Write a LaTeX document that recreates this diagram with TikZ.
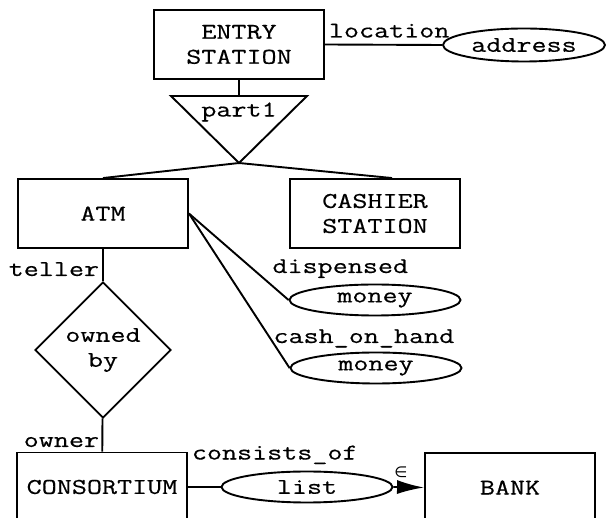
\documentclass[tikz,border=0pt]{standalone}
\usepackage{fontspec}
\setmainfont[FakeStretch=1.3,FakeBold=0.5]{Latin Modern Mono}
\newfontfamily\symbolfont{DejaVu Sans}
\usetikzlibrary{arrows.meta,shapes.geometric,positioning,calc}

\begin{document}
\begin{tikzpicture}[x=1pt,y=-1pt,line width=1.9pt,
        every node/.style={font=\fontsize{22.5}{25}\selectfont},
        entity/.style={draw,minimum width=170pt,minimum height=69pt,align=center,inner sep=0pt},
        attr/.style={draw,ellipse,minimum width=171pt,minimum height=31pt,inner sep=0pt},
        rel/.style={draw,diamond,minimum size=136pt,inner sep=0pt,align=center},
        role/.style={inner sep=0pt,anchor=base west}]
        \path[use as bounding box,clip] (0,0) rectangle (606,518);
        % entities
        \node[entity] (entry) at (239,44.5) {ENTRY\\STATION};
        \node[entity] (atm) at (103,213.5) {ATM};
        \node[entity] (cashier) at (375,213.5) {CASHIER\\STATION};
        \node[entity] (consortium) at (102,487) {CONSORTIUM};
        \node[entity] (bank) at (510,487.5) {BANK};
        % attributes
        \node[attr,minimum width=162pt,minimum height=33pt] (address) at (524,45) {address};
        \node[attr] (money1) at (375,300) {money};
        \node[attr] (money2) at (376,368) {money};
        \node[attr] (list) at (307,487) {list};
        % partition triangle
        \coordinate (tl) at (171,96);
        \coordinate (tr) at (307,96);
        \coordinate (apex) at (239,163);
        \draw (tl) -- (tr) -- (apex) -- cycle;
        \node (part1) at (239,112) {part1};
        \draw (entry.south) -- (entry.south |- tl);
        \draw (apex) -- (atm.north);
        \draw (apex) -- ($(cashier.north)+(17,0)$);
        % relationship
        \node[rel] (owned) at (103,350) {owned\\by};
        \draw (atm) -- (owned);
        \draw (owned) -- (consortium);
        % links
        \draw (entry.east) -- (address.west);
        \draw (atm.east) -- (money1.west);
        \draw (atm.east) -- (money2.west);
        \draw (consortium.east) -- (list.west);
        \draw[-{Latex[length=27pt,width=14pt]}] (list.east) -- (bank.west);
        % role names
        \node[role] at ($(entry.east)+(3,-7)$) {location};
        \node[role,anchor=base east] at ($(atm.south)+(-3,27)$) {teller};
        \node[role,anchor=base east] at ($(owned.south)+(-3,28)$) {owner};
        \node[role] at ($(money1.west)+(-17,-27)$) {dispensed};
        \node[role] at ($(money2.west)+(-17,-25)$) {cash\_on\_hand};
        \node[role] at ($(consortium.north east)+(3,8)$) {consists\_of};
        \node[role,font=\symbolfont\fontsize{15}{15}\selectfont] at ($(list.east)+(0,-9)$) {∈};
    \end{tikzpicture}
\end{document}
